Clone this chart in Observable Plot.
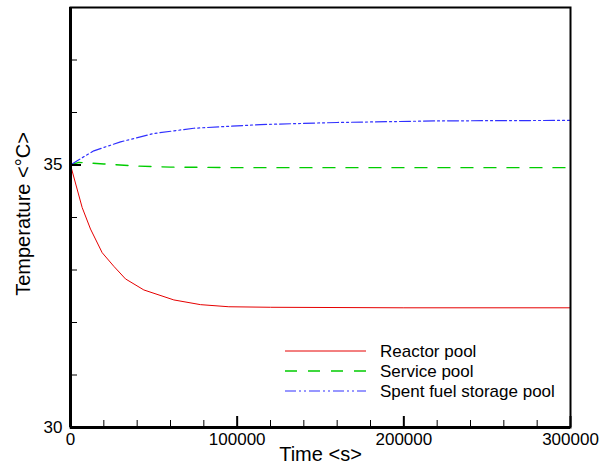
<!DOCTYPE html>
<html><head><meta charset="utf-8">
<script src="https://cdn.jsdelivr.net/npm/d3@7"></script>
<script src="https://cdn.jsdelivr.net/npm/@observablehq/plot@0.6"></script>
<style>body{margin:0;background:#fff}</style>
</head><body><div id="chart"></div>
<script>
// ---- data ----
const reactorTime = [0, 7000, 12000, 19000, 26000, 33000, 44000, 62000, 78000, 95000, 120000, 200000, 300000];
const reactorTemp = [35, 34.19, 33.78, 33.33, 33.07, 32.83, 32.62, 32.43, 32.34, 32.30, 32.29, 32.28, 32.28];
const serviceTime = [0, 5000, 20000, 40000, 60000, 100000, 200000, 300000];
const serviceTemp = [35, 35.05, 35.02, 34.98, 34.96, 34.95, 34.95, 34.95];
const spentTime = [0, 5000, 14000, 30000, 50000, 74000, 114000, 160000, 220000, 300000];
const spentTemp = [35, 35.1, 35.27, 35.44, 35.6, 35.70, 35.77, 35.81, 35.84, 35.85];
const seriesNames = ["Reactor pool", "Service pool", "Spent fuel storage pool"];
const xMajorTicks = [0, 100000, 200000, 300000];
const xMinorTicks = [20000, 40000, 60000, 80000, 120000, 140000, 160000, 180000, 220000, 240000, 260000, 280000];
const yMajorTicks = [30, 35];
const yMinorTicks = [31, 32, 33, 34, 36, 37];
const xLabel = "Time <s>";
const yLabel = "Temperature <°C>";

// ---- layout / style ----
const W = 610, H = 465, mL = 70, mR = 40, mT = 7, mB = 38;
const pw = W - mL - mR, ph = H - mT - mB;
const styles = [
  {stroke: "#e60000", strokeWidth: 1, dash: null},
  {stroke: "#00cc00", strokeWidth: 1.4, dash: "12,11"},
  {stroke: "#3030ff", strokeWidth: 1.2, dash: "11,3,2,3,2,3"}
];
const rows = (t, v) => t.map((x, i) => ({t: x, v: v[i]}));
const series = [rows(reactorTime, reactorTemp), rows(serviceTime, serviceTemp), rows(spentTime, spentTemp)];

const chart = Plot.plot({
  width: W, height: H,
  marginLeft: mL, marginRight: mR, marginTop: mT, marginBottom: mB,
  style: {fontFamily: "'Liberation Sans', Arial, sans-serif", fontSize: "17px", color: "#000", background: "#fff", overflow: "visible"},
  x: {domain: [0, 300000]},
  y: {domain: [30, 38]},
  marks: [
    ...series.map((s, i) => Plot.line(s, {x: "t", y: "v", stroke: styles[i].stroke, strokeWidth: styles[i].strokeWidth, strokeDasharray: styles[i].dash})),
    Plot.ruleX(xMinorTicks, {insetTop: ph - 7, stroke: "#000", strokeWidth: 1}),
    Plot.ruleX(xMajorTicks, {insetTop: ph - 11, stroke: "#000", strokeWidth: 2}),
    Plot.ruleY(yMinorTicks, {insetRight: pw - 7, stroke: "#000", strokeWidth: 1}),
    Plot.ruleY(yMajorTicks, {insetRight: pw - 11, stroke: "#000", strokeWidth: 2}),
    Plot.frame({stroke: "#000", strokeWidth: 2}),
    Plot.ruleX([0], {stroke: "#000", strokeWidth: 3}),
    Plot.ruleY([30], {stroke: "#000", strokeWidth: 3}),
    Plot.axisX(xMajorTicks, {tickSize: 0, tickPadding: 5, tickFormat: d => String(d), label: null, fontSize: 17}),
    Plot.axisY(yMajorTicks, {tickSize: 0, tickPadding: 8, tickFormat: d => String(d), label: null, fontSize: 17}),
    Plot.text([xLabel], {frameAnchor: "bottom", lineAnchor: "middle", textAnchor: "middle", dy: 27.5, fontSize: 20, fill: "#000"}),
    Plot.text([yLabel], {frameAnchor: "left", lineAnchor: "middle", textAnchor: "middle", rotate: -90, dx: -47, dy: -3.5, fontSize: 20, fill: "#000"})
  ]
});
document.getElementById("chart").appendChild(chart);

// ---- legend inside the plot ----
const svg = d3.select(chart);
const lg = svg.append("g")
  .attr("font-family", "'Liberation Sans', Arial, sans-serif")
  .attr("font-size", 17)
  .attr("text-anchor", "start");
seriesNames.forEach((name, i) => {
  const y = 351 + i * 20;
  lg.append("line").attr("x1", 285).attr("x2", 366).attr("y1", y).attr("y2", y)
    .attr("stroke", styles[i].stroke).attr("stroke-width", styles[i].strokeWidth)
    .attr("stroke-dasharray", styles[i].dash);
  lg.append("text").attr("x", 380).attr("y", y + 6).attr("fill", "#000").text(name);
});
</script>
</body></html>
